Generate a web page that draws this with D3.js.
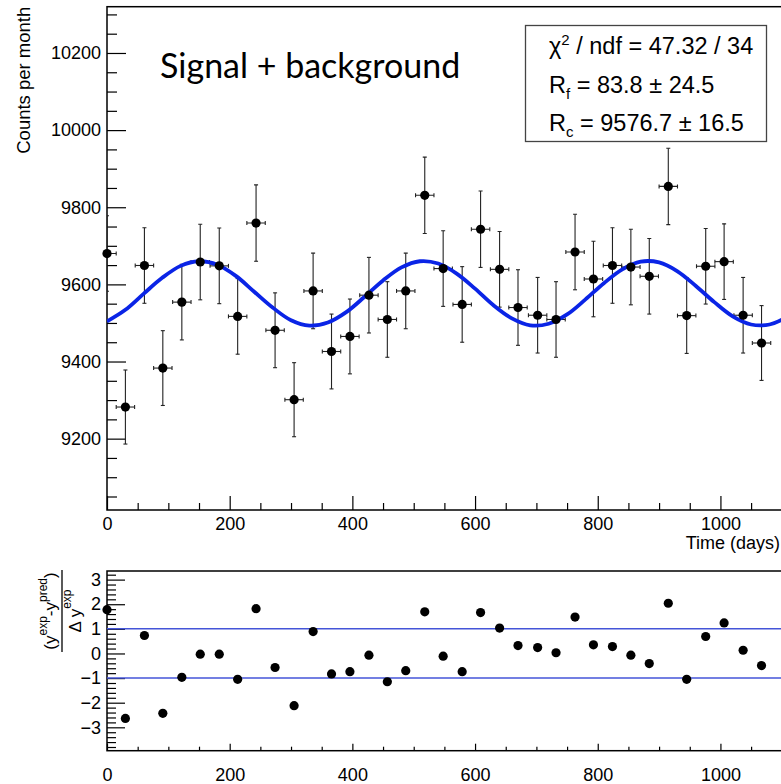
<!DOCTYPE html>
<meta charset="utf-8">
<style>
  body { margin: 0; background: #fff; }
  svg { display: block; }
  .tick text { font-family: "Liberation Sans", Arial, sans-serif; font-size: 18px; fill: #000; }
  .tick line { stroke: #000; stroke-width: 1.2; }
  .frame { fill: none; stroke: #000; stroke-width: 1.5; }
</style>
<body>
<div id="chart"></div>
<script src="https://cdn.jsdelivr.net/npm/d3@7"></script>
<script>

// ---- data ----
var days = [0, 30, 61, 91, 122, 152, 183, 213, 243, 274, 305, 336, 366, 396, 427, 457, 487, 518,
            548, 579, 609, 640, 670, 702, 732, 763, 793, 824, 854, 884, 915, 945, 976, 1006, 1037, 1067];
var counts = [9680, 9282, 9649, 9383, 9554, 9658, 9648, 9517, 9759, 9481, 9301, 9583, 9426, 9465, 9572, 9509, 9583, 9831,
              9641, 9548, 9743, 9639, 9540, 9520, 9509, 9684, 9614, 9649, 9645, 9621, 9854, 9519, 9647, 9659, 9520, 9448];
var countErr = [98, 96, 98, 97, 98, 98, 98, 98, 99, 97, 96, 98, 97, 97, 98, 98, 98, 99,
                98, 98, 99, 98, 98, 98, 98, 98, 98, 98, 98, 98, 99, 98, 98, 98, 98, 97];
var halfBin = 15;
var pulls = [1.78, -2.64, 0.73, -2.43, -0.97, -0.03, -0.03, -1.05, 1.82, -0.57, -2.12, 0.89, -0.83, -0.74, -0.07, -1.15, -0.70, 1.69,
             -0.11, -0.74, 1.66, 1.03, 0.32, 0.24, 0.03, 1.48, 0.35, 0.28, -0.07, -0.41, 2.04, -1.05, 0.69, 1.24, 0.13, -0.49];

// fitted curve
var fitDays = [0, 30, 60, 90, 120, 150, 180, 210, 240, 270, 300, 330, 360, 390, 420, 450, 480, 510, 540,
               570, 600, 630, 660, 690, 720, 750, 780, 810, 840, 870, 900, 930, 960, 990, 1020, 1050, 1080, 1110];
var fitCounts = [9504, 9534, 9576, 9617, 9648, 9660, 9651, 9622, 9581, 9540, 9507, 9493, 9501, 9528, 9568, 9610, 9644, 9660, 9654,
                 9628, 9589, 9546, 9512, 9494, 9498, 9522, 9561, 9603, 9639, 9659, 9657, 9634, 9596, 9554, 9517, 9496, 9496, 9517];

var xTicks = [0, 200, 400, 600, 800, 1000];
var yTicks = [9200, 9400, 9600, 9800, 10000, 10200];
var pullTicks = [-3, -2, -1, 0, 1, 2, 3];
var pullBands = [-1, 1];

var title = "Signal + background";
var xTitle = "Time (days)";
var yTitle = "Counts per month";

// ---- layout ----
var width = 781, height = 784;
var left = 107, right = 783;

var svg = d3.select("#chart").append("svg")
    .attr("width", width)
    .attr("height", height);

var x = d3.scaleLinear().domain([0, 1102]).range([left, right]);
var y = d3.scaleLinear().domain([9015, 10320]).range([510, 6.7]);
var yp = d3.scaleLinear().domain([-3.95, 3.35]).range([750.7, 571]);

svg.append("clipPath").attr("id", "clipTop")
  .append("rect").attr("x", left).attr("y", 6.7).attr("width", right - left).attr("height", 510 - 6.7);
svg.append("clipPath").attr("id", "clipBot")
  .append("rect").attr("x", left).attr("y", 571).attr("width", right - left).attr("height", 750.7 - 571);

// ---------- top panel ----------
svg.append("rect").attr("class", "frame")
    .attr("x", left).attr("y", 6.7).attr("width", right + 5 - left).attr("height", 510 - 6.7);

// y axis (ticks point inward)
svg.append("g")
    .attr("transform", "translate(" + left + ",0)")
    .call(d3.axisLeft(y).tickValues(yTicks).tickSize(-19).tickPadding(6).tickFormat(d3.format("d")))
    .call(function(g) { g.select(".domain").remove(); });
svg.append("g")
    .attr("transform", "translate(" + left + ",0)")
    .call(d3.axisLeft(y).tickValues(d3.range(9050, 10320, 50).filter(function(d) { return d % 200 !== 0; }))
      .tickSize(-10).tickFormat(""))
    .call(function(g) { g.select(".domain").remove(); });

// x axis
svg.append("g")
    .attr("transform", "translate(0,510)")
    .call(d3.axisBottom(x).tickValues(xTicks).tickSize(-14).tickPadding(7).tickFormat(d3.format("d")))
    .call(function(g) { g.select(".domain").remove(); });
svg.append("g")
    .attr("transform", "translate(0,510)")
    .call(d3.axisBottom(x).tickValues(d3.range(50, 1102, 50).filter(function(d) { return d % 200 !== 0; }))
      .tickSize(-7).tickFormat(""))
    .call(function(g) { g.select(".domain").remove(); });

svg.append("text")
    .attr("x", 780).attr("y", 549)
    .attr("text-anchor", "end")
    .style("font-family", "Liberation Sans, Arial, sans-serif")
    .style("font-size", "18px")
    .text(xTitle);

svg.append("text")
    .attr("transform", "translate(30,6.7) rotate(-90)")
    .attr("text-anchor", "end")
    .style("font-family", "Liberation Sans, Arial, sans-serif")
    .style("font-size", "18.5px")
    .text(yTitle);

// error bars
var bars = svg.append("g").attr("clip-path", "url(#clipTop)")
    .attr("stroke", "#222").attr("stroke-width", 1.1);
days.forEach(function(d, i) {
  var cx = x(d), cy = y(counts[i]);
  var top = y(counts[i] + countErr[i]), bot = y(counts[i] - countErr[i]);
  var xl = x(d - halfBin), xr = x(d + halfBin);
  bars.append("line").attr("x1", cx).attr("x2", cx).attr("y1", top).attr("y2", bot);
  bars.append("line").attr("x1", cx - 2).attr("x2", cx + 2).attr("y1", top).attr("y2", top);
  bars.append("line").attr("x1", cx - 2).attr("x2", cx + 2).attr("y1", bot).attr("y2", bot);
  bars.append("line").attr("x1", xl).attr("x2", xr).attr("y1", cy).attr("y2", cy);
  bars.append("line").attr("x1", xl).attr("x2", xl).attr("y1", cy - 2).attr("y2", cy + 2);
  bars.append("line").attr("x1", xr).attr("x2", xr).attr("y1", cy - 2).attr("y2", cy + 2);
});

// fit curve
var fitLine = d3.line()
    .x(function(d, i) { return x(fitDays[i]); })
    .y(function(d) { return y(d); })
    .curve(d3.curveCatmullRom);
svg.append("path")
    .datum(fitCounts)
    .attr("clip-path", "url(#clipTop)")
    .attr("fill", "none")
    .attr("stroke", "#0a24e6")
    .attr("stroke-width", 3.8)
    .attr("d", fitLine);

svg.append("g").selectAll("circle")
    .data(counts)
  .enter().append("circle")
    .attr("cx", function(d, i) { return x(days[i]); })
    .attr("cy", function(d) { return y(d); })
    .attr("r", 4.6)
    .attr("fill", "#000");

// title
svg.append("text")
    .attr("x", 160).attr("y", 77.5)
    .style("font-family", "Lato, 'Open Sans', sans-serif")
    .style("font-size", "34px")
    .text(title);

// stats box
svg.append("rect")
    .attr("x", 525.5).attr("y", 25.5).attr("width", 241).attr("height", 116)
    .attr("fill", "#fff").attr("stroke", "#444").attr("stroke-width", 1.3);

var stats = svg.append("g")
    .style("font-family", "Liberation Sans, Arial, sans-serif")
    .style("font-size", "23.5px");

var s1 = stats.append("text").attr("x", 549).attr("y", 54);
s1.append("tspan").text("\u03c7");
s1.append("tspan").attr("dy", -9).style("font-size", "15px").text("2");
s1.append("tspan").attr("dy", 9).text(" / ndf = 47.32 / 34");

var s2 = stats.append("text").attr("x", 549).attr("y", 93);
s2.append("tspan").text("R");
s2.append("tspan").attr("dy", 6).style("font-size", "15px").text("f");
s2.append("tspan").attr("dy", -6).text(" = 83.8 \u00b1 24.5");

var s3 = stats.append("text").attr("x", 549).attr("y", 131);
s3.append("tspan").text("R");
s3.append("tspan").attr("dy", 6).style("font-size", "15px").text("c");
s3.append("tspan").attr("dy", -6).text(" = 9576.7 \u00b1 16.5");

// ---------- bottom panel ----------
svg.append("rect").attr("class", "frame")
    .attr("x", left).attr("y", 571).attr("width", right + 5 - left).attr("height", 750.7 - 571);

svg.append("g")
    .attr("transform", "translate(" + left + ",0)")
    .call(d3.axisLeft(yp).tickValues(pullTicks).tickSize(-18).tickPadding(6))
    .call(function(g) { g.select(".domain").remove(); });
svg.append("g")
    .attr("transform", "translate(" + left + ",0)")
    .call(d3.axisLeft(yp).tickValues(d3.range(-38, 34, 2).map(function(d) { return d / 10; })
        .filter(function(d) { return Math.abs(d - Math.round(d)) > 0.01; }))
      .tickSize(-9).tickFormat(""))
    .call(function(g) { g.select(".domain").remove(); });

svg.append("g")
    .attr("transform", "translate(0,750.7)")
    .call(d3.axisBottom(x).tickValues(xTicks).tickSize(-7).tickPadding(18).tickFormat(d3.format("d")))
    .call(function(g) { g.select(".domain").remove(); });
svg.append("g")
    .attr("transform", "translate(0,750.7)")
    .call(d3.axisBottom(x).tickValues(d3.range(50, 1102, 50).filter(function(d) { return d % 200 !== 0; }))
      .tickSize(-4).tickFormat(""))
    .call(function(g) { g.select(".domain").remove(); });

svg.append("g").attr("clip-path", "url(#clipBot)")
  .selectAll("line")
    .data(pullBands)
  .enter().append("line")
    .attr("x1", left).attr("x2", right)
    .attr("y1", function(d) { return yp(d); })
    .attr("y2", function(d) { return yp(d); })
    .attr("stroke", "#4455d8")
    .attr("stroke-width", 1.5);

svg.append("g").selectAll("circle")
    .data(pulls)
  .enter().append("circle")
    .attr("cx", function(d, i) { return x(days[i]); })
    .attr("cy", function(d) { return yp(d); })
    .attr("r", 4.6)
    .attr("fill", "#000");

// pull axis title as a rotated fraction
var frac = svg.append("g")
    .attr("transform", "translate(62,611) rotate(-90)")
    .style("font-family", "Liberation Sans, Arial, sans-serif")
    .style("font-size", "17px");
var num = frac.append("text").attr("x", 0).attr("y", -6).attr("text-anchor", "middle");
num.append("tspan").text("(y");
num.append("tspan").attr("dy", -9).style("font-size", "12px").text("exp");
num.append("tspan").attr("dy", 9).text("-y");
num.append("tspan").attr("dy", -9).style("font-size", "12px").text("pred");
num.append("tspan").attr("dy", 9).text(")");
frac.append("line").attr("x1", -41).attr("x2", 41).attr("y1", 0).attr("y2", 0)
    .attr("stroke", "#000").attr("stroke-width", 1.3);
var den = frac.append("text").attr("x", 0).attr("y", 19).attr("text-anchor", "middle");
den.append("tspan").text("\u0394 y");
den.append("tspan").attr("dy", -10).style("font-size", "12px").text("exp");

</script>
</body>
